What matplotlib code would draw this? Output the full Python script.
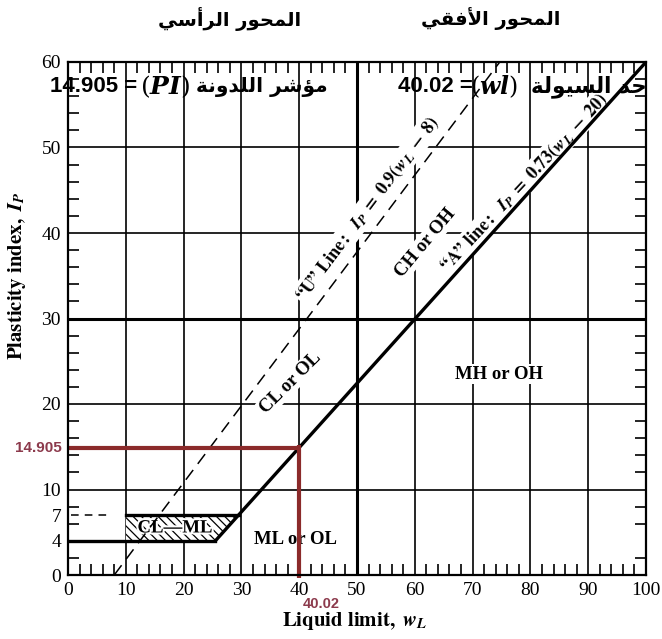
import matplotlib
matplotlib.use('Agg')
import matplotlib.pyplot as plt
from matplotlib.patches import Polygon
import matplotlib.patheffects as pe

# ---------------- data ----------------
x_ticks = [0, 10, 20, 30, 40, 50, 60, 70, 80, 90, 100]
y_ticks = [0, 4, 7, 10, 20, 30, 40, 50, 60]
grid_x = [10, 20, 30, 40, 50, 60, 70, 80, 90]
grid_y = [10, 20, 30, 40, 50]
thick_x = 50
thick_y = 30

a_line_w = [25.5, 100]
a_line_ip = [4, 60]
u_line_w = [8, 74.7]
u_line_ip = [0, 60]
clml_top_w = [10, 29.6]
clml_top_ip = [7, 7]
clml_bot_w = [0, 25.5]
clml_bot_ip = [4, 4]
clml_dash_w = [0.5, 7]
clml_dash_ip = [7, 7]
hatch_w = [10, 10, 29.6, 25.5]
hatch_ip = [4, 7, 7, 4]

wl_value = 40.02
pi_value = 14.905

region_labels = ["CL or OL", "CH or OH", "MH or OH", "ML or OL", "CL\u2014ML"]
region_x = [38.5, 61.8, 74.6, 39.4, 18.5]
region_y = [22.5, 38.8, 23.5, 4.1, 5.5]
region_rot = [45, 50, 0, 0, 0]

title_left = "المحور الرأسي"
title_right = "المحور الأفقي"
pi_name = "مؤشر اللدونة"
wl_name = "حد السيولة"

# ------------- simple Arabic shaping (presentation forms, visual order) -------------
DUAL = {'ب': 0xFE8F, 'ت': 0xFE95, 'ث': 0xFE99, 'ج': 0xFE9D, 'ح': 0xFEA1, 'خ': 0xFEA5,
        'س': 0xFEB1, 'ش': 0xFEB5, 'ص': 0xFEB9, 'ض': 0xFEBD, 'ط': 0xFEC1, 'ظ': 0xFEC5,
        'ع': 0xFEC9, 'غ': 0xFECD, 'ف': 0xFED1, 'ق': 0xFED5, 'ك': 0xFED9, 'ل': 0xFEDD,
        'م': 0xFEE1, 'ن': 0xFEE5, 'ه': 0xFEE9, 'ي': 0xFEF1, 'ئ': 0xFE89}
RIGHT = {'ا': 0xFE8D, 'أ': 0xFE83, 'إ': 0xFE87, 'آ': 0xFE81, 'ؤ': 0xFE85, 'ة': 0xFE93,
         'د': 0xFEA9, 'ذ': 0xFEAB, 'ر': 0xFEAD, 'ز': 0xFEAF, 'و': 0xFEED, 'ى': 0xFEEF}
LAMALEF = {'آ': 0xFEF5, 'أ': 0xFEF7, 'إ': 0xFEF9, 'ا': 0xFEFB}


def shape_arabic(text):
    toks = []
    i = 0
    while i < len(text):
        c = text[i]
        if c == 'ل' and i + 1 < len(text) and text[i + 1] in LAMALEF:
            toks.append(('R', LAMALEF[text[i + 1]]))
            i += 2
        elif c in DUAL:
            toks.append(('D', DUAL[c])); i += 1
        elif c in RIGHT:
            toks.append(('R', RIGHT[c])); i += 1
        else:
            toks.append(('N', c)); i += 1
    out = []
    for k, (kind, val) in enumerate(toks):
        if kind == 'N':
            out.append(val)
            continue
        prev_j = k > 0 and toks[k - 1][0] == 'D'
        next_j = kind == 'D' and k + 1 < len(toks) and toks[k + 1][0] in ('D', 'R')
        if kind == 'R':
            code = val + (1 if prev_j else 0)
        else:
            if prev_j and next_j:
                code = val + 3
            elif prev_j:
                code = val + 1
            elif next_j:
                code = val + 2
            else:
                code = val
        out.append(chr(code))
    return ''.join(reversed(out))


# ---------------- figure ----------------
W, H = 662, 639
fig = plt.figure(figsize=(W / 100, H / 100), dpi=100)
ax = fig.add_axes([68 / W, 1 - 575 / H, 578 / W, 513 / H])
ax.set_xlim(0, 100)
ax.set_ylim(0, 60)

serif = 'Liberation Serif'
red_line = '#8B2A2A'
red_text = '#8C3A4C'

for g in grid_x:
    ax.axvline(g, color='black', lw=2.2 if g == thick_x else 1.2, zorder=1)
for g in grid_y:
    ax.axhline(g, color='black', lw=2.2 if g == thick_y else 1.2, zorder=1)

for s in ax.spines.values():
    s.set_linewidth(1.6)
    s.set_zorder(6)

ax.set_xticks(x_ticks)
ax.set_yticks(y_ticks)
ax.set_xticks([v for v in range(2, 100, 2) if v % 10], minor=True)
ax.set_yticks([v for v in range(2, 60, 2) if v % 10], minor=True)
ax.tick_params(which='major', length=0, labelsize=14, pad=5)
ax.tick_params(which='minor', direction='in', length=8, width=1.2,
               top=True, right=True, bottom=True, left=True)
for lab in ax.get_xticklabels() + ax.get_yticklabels():
    lab.set_family(serif)

# hatched CL-ML zone
plt.rcParams['hatch.linewidth'] = 0.9
poly = Polygon(list(zip(hatch_w, hatch_ip)), closed=True, facecolor='white',
               edgecolor='black', lw=0, hatch='\\' * 4, zorder=2)
ax.add_patch(poly)

# lines
ax.plot(a_line_w, a_line_ip, color='black', lw=2.4, zorder=4, solid_capstyle='butt')
ax.plot(u_line_w, u_line_ip, color='black', lw=1.1, dashes=(8, 5), zorder=4)
ax.plot(clml_top_w, clml_top_ip, color='black', lw=2.4, zorder=4)
ax.plot(clml_bot_w, clml_bot_ip, color='black', lw=2.4, zorder=4)
ax.plot(clml_dash_w, clml_dash_ip, color='black', lw=1.1, dashes=(5, 4), zorder=4)

# red reading lines
ax.plot([0, wl_value], [pi_value, pi_value], color=red_line, lw=3.0, zorder=5,
        solid_capstyle='butt')
ax.plot([wl_value, wl_value], [pi_value + 0.3, -0.4], color=red_line, lw=3.0, zorder=5,
        solid_capstyle='butt', clip_on=False)
ax.text(-0.011, pi_value, f"{pi_value}", transform=ax.get_yaxis_transform(), ha='right',
        va='center', color=red_text, fontsize=11, fontweight='bold', family='Liberation Sans')
ax.text(wl_value + 0.6, -0.056, f"{wl_value}", transform=ax.get_xaxis_transform(),
        ha='left', va='center', color=red_text, fontsize=10.5, fontweight='bold',
        family='Liberation Sans')

# region labels
for lab, x, y, r in zip(region_labels, region_x, region_y, region_rot):
    if lab.startswith("CL\u2014"):
        ax.text(x, y, lab, ha='center', va='center', fontsize=13.5, fontweight='bold',
                family=serif, zorder=3,
                path_effects=[pe.withStroke(linewidth=3, foreground='white')])
    else:
        ax.text(x, y, lab, rotation=r, rotation_mode='anchor', ha='center', va='center',
                fontsize=13.5, fontweight='bold', family=serif,
                bbox=dict(facecolor='white', edgecolor='none', pad=0.0 if r == 0 and y < 7 else 1.0),
                zorder=3)

# line equation labels
bb = dict(facecolor='white', edgecolor='none', pad=1.0)
u_lab = (r'$\mathbf{' + '\u201cU\u201d' + r'\ Line:}\ \ \mathbfit{I}_{\mathbfit{P}}'
         r'\mathbf{\ =\ 0.9(}\mathbfit{w}_{\mathbfit{L}}\mathbf{\ -\ 8)}$')
a_lab = (r'$\mathbf{' + '\u201cA\u201d' + r'\ line:}\ \ \mathbfit{I}_{\mathbfit{P}}'
         r'\mathbf{\ =\ 0.73(}\mathbfit{w}_{\mathbfit{L}}\mathbf{\ -\ 20)}$')
ax.text(51.8, 42.9, u_lab, rotation=53, rotation_mode='anchor', ha='center', va='center',
        fontsize=13, math_fontfamily='stix', bbox=bb, zorder=3)
ax.text(65.6, 35.4, a_lab, rotation=47, rotation_mode='anchor', ha='left', va='baseline',
        fontsize=13, math_fontfamily='stix', bbox=bb, zorder=3, clip_on=True)

# axis labels
fig.text(17 / W, 1 - 276 / H, r'$\mathbf{Plasticity\ index,}\ \mathbfit{I}_{\mathbfit{P}}$',
         rotation=90, ha='center', va='center', fontsize=15, math_fontfamily='stix')
fig.text(355 / W, 1 - 621 / H, r'$\mathbf{Liquid\ limit,}\ \mathbfit{w}_{\mathbfit{L}}$',
         ha='center', va='center', fontsize=15, math_fontfamily='stix')

# Arabic titles
arab = ['DejaVu Sans']
fig.text(230 / W, 1 - 19 / H, shape_arabic(title_left), ha='center', va='center',
         fontsize=14, fontweight='bold', family=arab)
fig.text(491 / W, 1 - 19 / H, shape_arabic(title_right), ha='center', va='center',
         fontsize=14, fontweight='bold', family=arab)

# overlay rows
yrow = 1 - 87 / H
fam = ['Liberation Sans', 'DejaVu Sans']
fig.text(50 / W, yrow, f"{pi_value} =", ha='left', va='center', fontsize=16,
         fontweight='bold', family=fam, zorder=10)
fig.text(140 / W, yrow, r'$(\mathbfit{PI})$', ha='left', va='center', fontsize=18,
         math_fontfamily='dejavuserif', zorder=10)
fig.text(328 / W, yrow, shape_arabic(pi_name), ha='right', va='center', fontsize=14.5,
         fontweight='bold', family=arab, zorder=10)
fig.text(398 / W, yrow, f"{wl_value} =", ha='left', va='center', fontsize=16,
         fontweight='bold', family=fam, zorder=10)
fig.text(470 / W, yrow, r'$(\mathbfit{wl})$', ha='left', va='center', fontsize=17,
         math_fontfamily='dejavuserif', zorder=10)
fig.text(647 / W, yrow, shape_arabic(wl_name), ha='right', va='center', fontsize=15.5,
         fontweight='bold', family=arab, zorder=10)

fig.savefig('out.png', dpi=100)
